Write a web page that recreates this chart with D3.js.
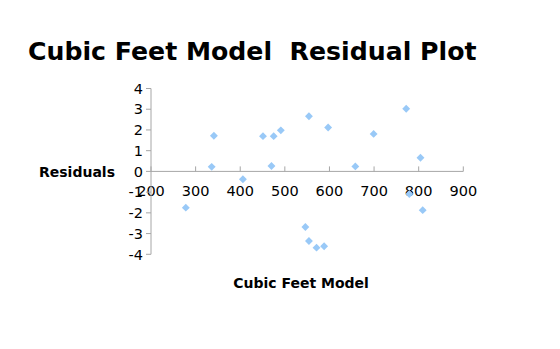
<!DOCTYPE html>
<html><head><meta charset="utf-8">
<script src="https://cdn.jsdelivr.net/npm/d3@7"></script>
<style>body{margin:0;background:#fff}svg{display:block}text{white-space:pre}</style>
</head><body>
<script>
const cubicFeet = [278,336,341,406,451,470,475,491,546,554,554,571,588,597,658,699,772,779,804,809];
const residuals = [-1.75,0.22,1.72,-0.38,1.70,0.26,1.70,1.98,-2.68,2.66,-3.36,-3.68,-3.61,2.12,0.24,1.81,3.02,-1.09,0.66,-1.87];
const xTicks = [200,300,400,500,600,700,800,900];
const yTicks = [-4,-3,-2,-1,0,1,2,3,4];
const title = "Cubic Feet Model  Residual Plot";
const xTitle = "Cubic Feet Model";
const yTitle = "Residuals";

const W=560,H=349;
const svg=d3.select("body").append("svg").attr("width",W).attr("height",H);
const x=d3.scaleLinear().domain([200,900]).range([151,463.3]);
const y=d3.scaleLinear().domain([-4,4]).range([254.3,88.5]);
const font="DejaVu Sans";

svg.append("text").attr("x",28).attr("y",60).attr("font-family",font).attr("font-weight","bold")
  .attr("font-size",25.2).attr("fill","#000").attr("xml:space","preserve").text(title);

// x axis along y=0
const xa=svg.append("g").attr("transform",`translate(0,${y(0)})`);
xa.append("line").attr("x1",x(200)).attr("x2",x(900)).attr("stroke","#a6a6a6").attr("stroke-width",1);
xa.selectAll("line.t").data(xTicks).join("line").attr("class","t")
  .attr("x1",d=>x(d)).attr("x2",d=>x(d)).attr("y1",-5).attr("y2",0).attr("stroke","#a6a6a6");
xa.selectAll("text").data(xTicks).join("text").attr("x",d=>x(d)).attr("y",25)
  .attr("text-anchor","middle").attr("font-family",font).attr("font-size",14.5).attr("fill","#000").text(d=>d);

// y axis
const ya=svg.append("g").attr("transform",`translate(${x(200)},0)`);
ya.append("line").attr("y1",y(4)).attr("y2",y(-4)).attr("stroke","#a6a6a6");
ya.selectAll("line.t").data(yTicks).join("line").attr("class","t")
  .attr("y1",d=>y(d)).attr("y2",d=>y(d)).attr("x1",-5).attr("x2",0).attr("stroke","#a6a6a6");
ya.selectAll("text").data(yTicks).join("text").attr("x",-8).attr("y",d=>y(d)).attr("dy","0.36em")
  .attr("text-anchor","end").attr("font-family",font).attr("font-size",14.5).attr("fill","#000").text(d=>d);

svg.append("text").attr("x",39).attr("y",177).attr("font-family",font).attr("font-weight","bold")
  .attr("font-size",14).attr("fill","#000").text(yTitle);
svg.append("text").attr("x",301).attr("y",288).attr("text-anchor","middle").attr("font-family",font).attr("font-weight","bold")
  .attr("font-size",14).attr("fill","#000").text(xTitle);

const pts=cubicFeet.map((c,i)=>({c,r:residuals[i]}));
svg.append("g").selectAll("path").data(pts).join("path")
  .attr("d",d3.symbol(d3.symbolSquare,31))
  .attr("transform",d=>`translate(${x(d.c)},${y(d.r)}) rotate(45)`)
  .attr("fill","#99c9f7");
</script>
</body></html>
